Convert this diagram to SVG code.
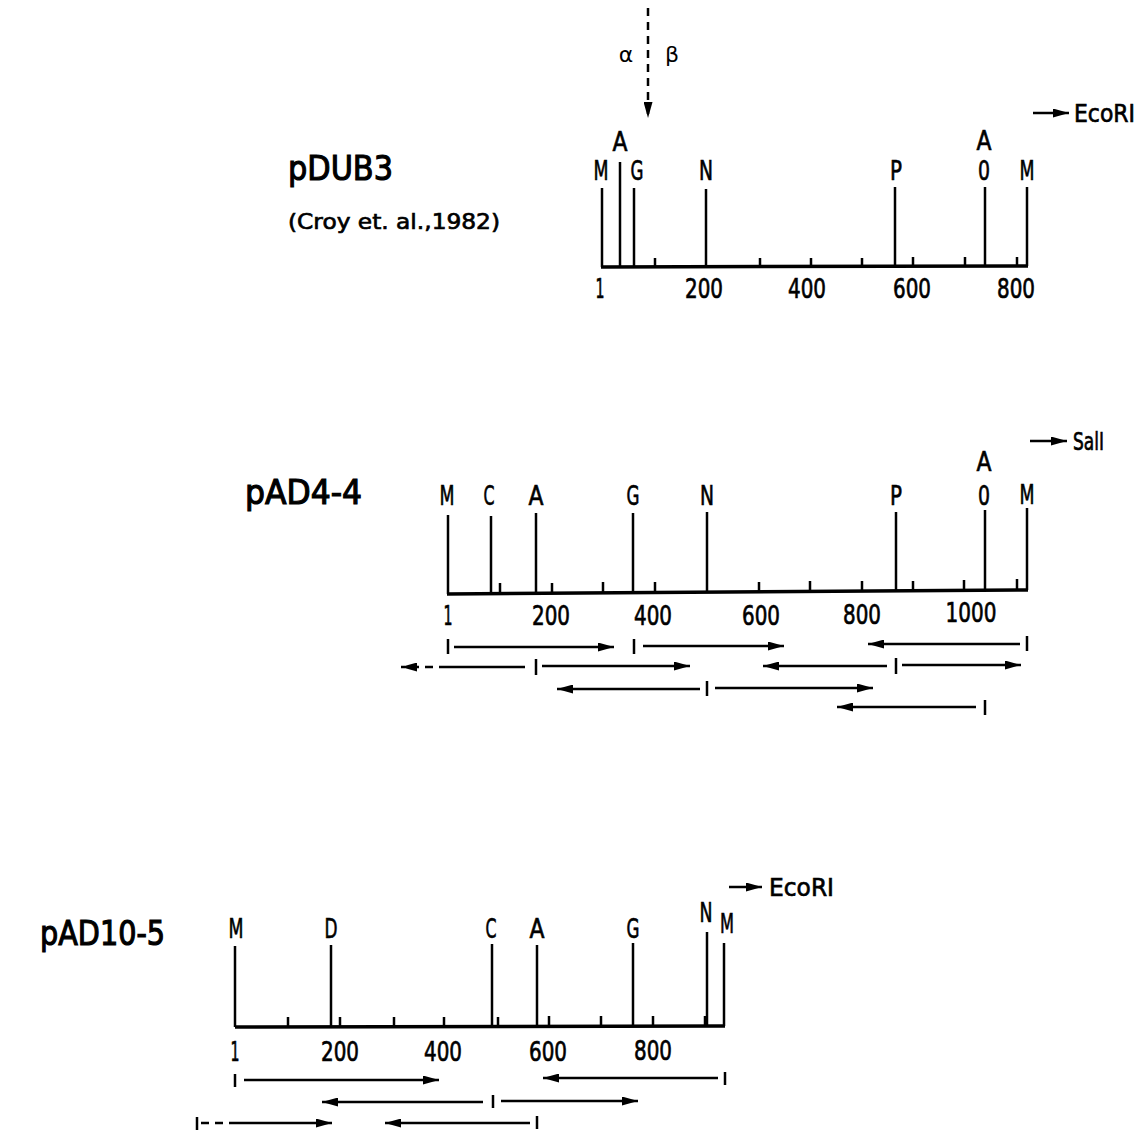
<svg xmlns="http://www.w3.org/2000/svg" width="1148" height="1134" viewBox="0 0 1148 1134">
<style>
text{font-family:"DejaVu Sans","Liberation Sans",sans-serif;fill:#000;stroke:#000;stroke-width:0.7}
.lbl{font-size:27px;text-anchor:middle}
.num{font-size:26px;text-anchor:middle}
.title{font-size:34px;stroke-width:1.2}
.ab{font-size:22px;text-anchor:middle;stroke-width:0}
.axis{stroke:#000;stroke-width:3.5;fill:none}
.site{stroke:#000;stroke-width:2.5;fill:none}
.tick{stroke:#000;stroke-width:2.5;fill:none}
.frag{stroke:#000;stroke-width:2.5;fill:none}
.dash{stroke-dasharray:8 6}
</style>
<defs>
<marker id="ah" viewBox="0 0 16 9" refX="16" refY="4.5" markerWidth="16" markerHeight="9" markerUnits="userSpaceOnUse" orient="auto">
<path d="M0,0 L16,4.5 L0,9 Z" fill="#000"/>
</marker>
</defs>
<rect width="1148" height="1134" fill="#fff"/>

<!-- pDUB3 -->
<g id="pDUB3">
<text class="title" x="288" y="180" textLength="105" lengthAdjust="spacingAndGlyphs">pDUB3</text>
<text x="288" y="229" font-size="22" textLength="212" lengthAdjust="spacingAndGlyphs">(Croy et. al.,1982)</text>
<line class="axis" x1="601" y1="267" x2="1028" y2="266"/>
<g class="tick">
<line x1="655" y1="258" x2="655" y2="267"/>
<line x1="760" y1="258" x2="760" y2="267"/>
<line x1="811" y1="258" x2="811" y2="267"/>
<line x1="862" y1="258" x2="862" y2="267"/>
<line x1="913" y1="257" x2="913" y2="266"/>
<line x1="965" y1="257" x2="965" y2="266"/>
<line x1="1017" y1="257" x2="1017" y2="266"/>
</g>
<g id="pDUB3-sites" class="site">
<line x1="602" y1="188" x2="602" y2="267"/>
<line x1="620" y1="162" x2="620" y2="267"/>
<line x1="634" y1="188" x2="634" y2="267"/>
<line x1="706" y1="189" x2="706" y2="267"/>
<line x1="895" y1="187" x2="895" y2="266"/>
<line x1="985" y1="187" x2="985" y2="266"/>
<line x1="1027" y1="187" x2="1027" y2="266"/>
</g>
<g id="pDUB3-labels">
<text class="lbl" x="601" y="180" textLength="15" lengthAdjust="spacingAndGlyphs">M</text>
<text class="lbl" x="620" y="151" textLength="15" lengthAdjust="spacingAndGlyphs">A</text>
<text class="lbl" x="637" y="180" textLength="13" lengthAdjust="spacingAndGlyphs">G</text>
<text class="lbl" x="706" y="180" textLength="14" lengthAdjust="spacingAndGlyphs">N</text>
<text class="lbl" x="896" y="180" textLength="12" lengthAdjust="spacingAndGlyphs">P</text>
<text class="lbl" x="984" y="150" textLength="15" lengthAdjust="spacingAndGlyphs">A</text>
<text class="lbl" x="984" y="180" textLength="12" lengthAdjust="spacingAndGlyphs">0</text>
<text class="lbl" x="1027" y="180" textLength="15" lengthAdjust="spacingAndGlyphs">M</text>
</g>
<g id="pDUB3-scale">
<text class="num" x="600" y="298" textLength="9" lengthAdjust="spacingAndGlyphs">1</text>
<text class="num" x="704" y="298" textLength="38" lengthAdjust="spacingAndGlyphs">200</text>
<text class="num" x="807" y="298" textLength="38" lengthAdjust="spacingAndGlyphs">400</text>
<text class="num" x="912" y="298" textLength="38" lengthAdjust="spacingAndGlyphs">600</text>
<text class="num" x="1016" y="298" textLength="38" lengthAdjust="spacingAndGlyphs">800</text>
</g>
<g id="pDUB3-alphabeta">
<line class="site dash" x1="648" y1="8" x2="648" y2="118" marker-end="url(#ah)"/>
<text class="ab" x="626" y="62">α</text>
<text class="ab" x="672" y="62">β</text>
</g>
<g id="pDUB3-ecori">
<line class="frag" x1="1033" y1="113" x2="1069" y2="113" marker-end="url(#ah)"/>
<text x="1074" y="122" font-size="25" textLength="61" lengthAdjust="spacingAndGlyphs">EcoRI</text>
</g>
</g>

<!-- pAD4-4 -->
<g id="pAD4-4">
<text class="title" x="245" y="504" textLength="117" lengthAdjust="spacingAndGlyphs">pAD4-4</text>
<line class="axis" x1="447" y1="594" x2="1028" y2="590"/>
<g class="tick">
<line x1="500" y1="583" x2="500" y2="593"/>
<line x1="552" y1="583" x2="552" y2="593"/>
<line x1="603" y1="582" x2="603" y2="593"/>
<line x1="655" y1="582" x2="655" y2="593"/>
<line x1="759" y1="582" x2="759" y2="592"/>
<line x1="810" y1="581" x2="810" y2="592"/>
<line x1="862" y1="581" x2="862" y2="592"/>
<line x1="913" y1="581" x2="913" y2="591"/>
<line x1="964" y1="580" x2="964" y2="591"/>
<line x1="1017" y1="579" x2="1017" y2="590"/>
</g>
<g id="pAD4-4-sites" class="site">
<line x1="448" y1="515" x2="448" y2="594"/>
<line x1="491" y1="516" x2="491" y2="594"/>
<line x1="536" y1="513" x2="536" y2="593"/>
<line x1="633" y1="513" x2="633" y2="593"/>
<line x1="707" y1="512" x2="707" y2="592"/>
<line x1="896" y1="512" x2="896" y2="591"/>
<line x1="985" y1="510" x2="985" y2="591"/>
<line x1="1027" y1="508" x2="1027" y2="590"/>
</g>
<g id="pAD4-4-labels">
<text class="lbl" x="447" y="505" textLength="15" lengthAdjust="spacingAndGlyphs">M</text>
<text class="lbl" x="489" y="505" textLength="11" lengthAdjust="spacingAndGlyphs">C</text>
<text class="lbl" x="536" y="505" textLength="15" lengthAdjust="spacingAndGlyphs">A</text>
<text class="lbl" x="633" y="505" textLength="13" lengthAdjust="spacingAndGlyphs">G</text>
<text class="lbl" x="707" y="505" textLength="14" lengthAdjust="spacingAndGlyphs">N</text>
<text class="lbl" x="896" y="505" textLength="12" lengthAdjust="spacingAndGlyphs">P</text>
<text class="lbl" x="984" y="471" textLength="15" lengthAdjust="spacingAndGlyphs">A</text>
<text class="lbl" x="984" y="505" textLength="12" lengthAdjust="spacingAndGlyphs">0</text>
<text class="lbl" x="1027" y="504" textLength="15" lengthAdjust="spacingAndGlyphs">M</text>
</g>
<g id="pAD4-4-scale">
<text class="num" x="448" y="625" textLength="9" lengthAdjust="spacingAndGlyphs">1</text>
<text class="num" x="551" y="625" textLength="38" lengthAdjust="spacingAndGlyphs">200</text>
<text class="num" x="653" y="625" textLength="38" lengthAdjust="spacingAndGlyphs">400</text>
<text class="num" x="761" y="625" textLength="38" lengthAdjust="spacingAndGlyphs">600</text>
<text class="num" x="862" y="624" textLength="38" lengthAdjust="spacingAndGlyphs">800</text>
<text class="num" x="971" y="622" textLength="51" lengthAdjust="spacingAndGlyphs">1000</text>
</g>
<g id="pAD4-4-sali">
<line class="frag" x1="1030" y1="441" x2="1067" y2="441" marker-end="url(#ah)"/>
<text x="1073" y="450" font-size="25" textLength="31" lengthAdjust="spacingAndGlyphs">SalI</text>
</g>
</g>

<!-- pAD10-5 -->
<g id="pAD10-5">
<text class="title" x="40" y="945" textLength="125" lengthAdjust="spacingAndGlyphs">pAD10-5</text>
<line class="axis" x1="235" y1="1027" x2="725" y2="1026"/>
<g class="tick">
<line x1="288" y1="1017" x2="288" y2="1027"/>
<line x1="340" y1="1017" x2="340" y2="1027"/>
<line x1="394" y1="1017" x2="394" y2="1027"/>
<line x1="444" y1="1017" x2="444" y2="1027"/>
<line x1="498" y1="1017" x2="498" y2="1027"/>
<line x1="549" y1="1016" x2="549" y2="1026"/>
<line x1="601" y1="1016" x2="601" y2="1026"/>
<line x1="653" y1="1016" x2="653" y2="1026"/>
<line x1="705" y1="1016" x2="705" y2="1026"/>
</g>
<g id="pAD10-5-sites" class="site">
<line x1="235" y1="946" x2="235" y2="1027"/>
<line x1="331" y1="945" x2="331" y2="1027"/>
<line x1="492" y1="944" x2="492" y2="1027"/>
<line x1="537" y1="945" x2="537" y2="1027"/>
<line x1="633" y1="943" x2="633" y2="1026"/>
<line x1="707" y1="932" x2="707" y2="1026"/>
<line x1="724" y1="943" x2="724" y2="1026"/>
</g>
<g id="pAD10-5-labels">
<text class="lbl" x="236" y="938" textLength="15" lengthAdjust="spacingAndGlyphs">M</text>
<text class="lbl" x="331" y="938" textLength="13" lengthAdjust="spacingAndGlyphs">D</text>
<text class="lbl" x="491" y="938" textLength="11" lengthAdjust="spacingAndGlyphs">C</text>
<text class="lbl" x="537" y="938" textLength="15" lengthAdjust="spacingAndGlyphs">A</text>
<text class="lbl" x="633" y="938" textLength="13" lengthAdjust="spacingAndGlyphs">G</text>
<text class="lbl" x="706" y="922" textLength="13" lengthAdjust="spacingAndGlyphs">N</text>
<text class="lbl" x="727" y="933" textLength="14" lengthAdjust="spacingAndGlyphs">M</text>
</g>
<g id="pAD10-5-scale">
<text class="num" x="235" y="1061" textLength="9" lengthAdjust="spacingAndGlyphs">1</text>
<text class="num" x="340" y="1061" textLength="38" lengthAdjust="spacingAndGlyphs">200</text>
<text class="num" x="443" y="1061" textLength="38" lengthAdjust="spacingAndGlyphs">400</text>
<text class="num" x="548" y="1061" textLength="38" lengthAdjust="spacingAndGlyphs">600</text>
<text class="num" x="653" y="1060" textLength="38" lengthAdjust="spacingAndGlyphs">800</text>
</g>
<g id="pAD10-5-ecori">
<line class="frag" x1="729" y1="887" x2="762" y2="887" marker-end="url(#ah)"/>
<text x="769" y="896" font-size="25" textLength="65" lengthAdjust="spacingAndGlyphs">EcoRI</text>
</g>
</g>

<!-- sequencing fragments (connectors) -->
<g id="connectors">
<g id="pAD4-4-fragments">
<line class="tick" x1="448" y1="639" x2="448" y2="654"/>
<line class="frag" x1="454" y1="647" x2="614" y2="647" marker-end="url(#ah)"/>
<line class="tick" x1="634" y1="639" x2="634" y2="654"/>
<line class="frag" x1="643" y1="646" x2="784" y2="646" marker-end="url(#ah)"/>
<line class="frag" x1="1020" y1="644" x2="868" y2="644" marker-end="url(#ah)"/>
<line class="tick" x1="1027" y1="636" x2="1027" y2="651"/>

<line class="frag" x1="525" y1="667" x2="447" y2="667"/>
<line class="frag dash" x1="447" y1="667" x2="401" y2="667" marker-end="url(#ah)"/>
<line class="tick" x1="536" y1="659" x2="536" y2="675"/>
<line class="frag" x1="542" y1="666" x2="690" y2="666" marker-end="url(#ah)"/>
<line class="frag" x1="887" y1="666" x2="763" y2="666" marker-end="url(#ah)"/>
<line class="tick" x1="896" y1="658" x2="896" y2="674"/>
<line class="frag" x1="902" y1="665" x2="1021" y2="665" marker-end="url(#ah)"/>

<line class="frag" x1="700" y1="689" x2="557" y2="689" marker-end="url(#ah)"/>
<line class="tick" x1="707" y1="681" x2="707" y2="696"/>
<line class="frag" x1="715" y1="688" x2="873" y2="688" marker-end="url(#ah)"/>

<line class="frag" x1="976" y1="707" x2="837" y2="707" marker-end="url(#ah)"/>
<line class="tick" x1="985" y1="700" x2="985" y2="715"/>
</g>
<g id="pAD10-5-fragments">
<line class="tick" x1="235" y1="1074" x2="235" y2="1087"/>
<line class="frag" x1="244" y1="1080" x2="439" y2="1080" marker-end="url(#ah)"/>
<line class="frag" x1="718" y1="1078" x2="543" y2="1078" marker-end="url(#ah)"/>
<line class="tick" x1="725" y1="1072" x2="725" y2="1085"/>

<line class="frag" x1="483" y1="1102" x2="322" y2="1102" marker-end="url(#ah)"/>
<line class="tick" x1="493" y1="1095" x2="493" y2="1108"/>
<line class="frag" x1="501" y1="1101" x2="638" y2="1101" marker-end="url(#ah)"/>

<line class="tick" x1="197" y1="1117" x2="197" y2="1130"/>
<line class="frag dash" x1="201" y1="1123" x2="237" y2="1123"/>
<line class="frag" x1="237" y1="1123" x2="332" y2="1123" marker-end="url(#ah)"/>
<line class="frag" x1="530" y1="1123" x2="385" y2="1123" marker-end="url(#ah)"/>
<line class="tick" x1="537" y1="1116" x2="537" y2="1129"/>
</g>
</g>
</svg>
